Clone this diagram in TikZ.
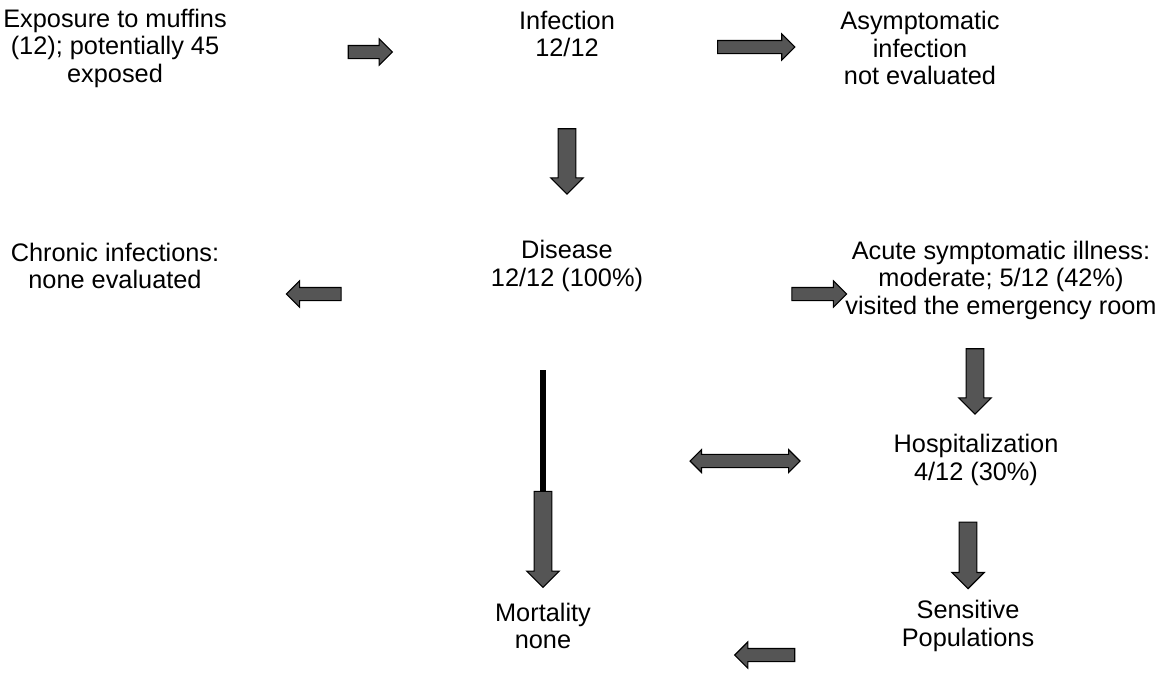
\documentclass[tikz,border=0pt]{standalone}
\usepackage{fontspec}
\setmainfont{Liberation Sans}
\usetikzlibrary{shapes.arrows,positioning}
\definecolor{arrowfill}{HTML}{555555}

\begin{document}
\begin{tikzpicture}[x=0.75pt,y=-0.75pt,
  stage/.style={align=center,inner sep=0pt,font=\fontsize{19}{20.6}\selectfont},
  blockarrow/.style={single arrow,draw=black,fill=arrowfill,line width=0.8pt,inner sep=0pt,inner ysep=6.2pt,single arrow head extend=5.6pt},
  sidearrow/.style={blockarrow,inner ysep=4.5pt,single arrow head extend=5pt},
  twoway/.style={double arrow,draw=black,fill=arrowfill,line width=0.8pt,inner sep=0pt,inner ysep=4.6pt,double arrow head extend=3.6pt}
]
\useasboundingbox (0,0) rectangle (1157,672);

% outcome boxes (text only)
\node[stage] (expo) at (115,48) {Exposure to muffins\\(12); potentially 45\\exposed};
\node[stage] (inf) at (567,34) {Infection\\12/12};
\node[stage] (asym) at (920,48) {Asymptomatic\\infection\\not evaluated};
\node[stage] (chron) at (115,266) {Chronic infections:\\none evaluated};
\node[stage] (dis) at (567,266) {Disease\\12/12 (100\%)};
\node[stage] (acute) at (1001,280) {Acute symptomatic illness:\\moderate; 5/12 (42\%)\\visited the emergency room};
\node[stage] (hosp) at (976,460) {Hospitalization\\4/12 (30\%)};
\node[stage] (mort) at (543,626) {Mortality\\none};
\node[stage] (sens) at (968,626) {Sensitive\\Populations};

% block arrows
\node[sidearrow,minimum height=33pt] (expo-inf) at (367,52) {};
\node[sidearrow,minimum height=58pt] (inf-asym) at (753,47) {};
\node[blockarrow,minimum height=49pt,rotate=-90] (inf-dis) at (567,157) {};
\node[sidearrow,minimum height=41pt,rotate=180] (dis-chron) at (317,294) {};
\node[sidearrow,minimum height=41pt] (dis-acute) at (816,294) {};
\node[blockarrow,minimum height=49pt,rotate=-90] (acute-hosp) at (975,377) {};
\node[twoway,minimum height=82.5pt] (hosp-mort) at (745,461) {};
\node[blockarrow,minimum height=50pt,rotate=-90] (hosp-sens) at (968,551) {};
\node[sidearrow,minimum height=45pt,rotate=180] (sens-mort) at (768,655) {};

% long arrow from disease down to mortality
\coordinate (mtop) at (543,370);
\draw[line width=4.8pt] (mtop) -- (543,492);
\node[blockarrow,minimum height=72pt,rotate=-90] (dis-mort) at (543,535) {};
\end{tikzpicture}
\end{document}
